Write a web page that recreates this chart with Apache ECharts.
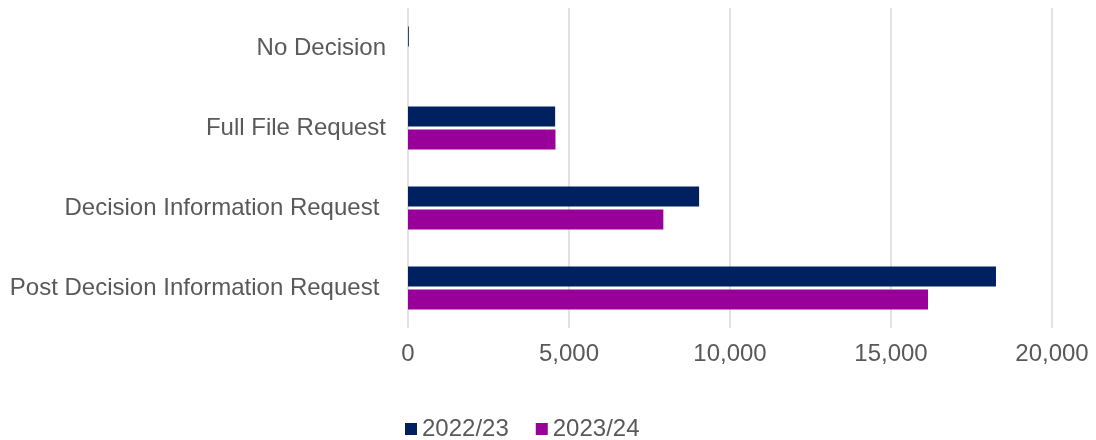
<!DOCTYPE html>
<html>
<head>
<meta charset="utf-8">
<script src="https://cdn.jsdelivr.net/npm/echarts@6/dist/echarts.min.js"></script>
<style>
  html, body { margin: 0; padding: 0; background: #ffffff; }
  #chart { width: 1096px; height: 440px; }
</style>
</head>
<body>
<div id="chart"></div>
<script>
// Request types, listed bottom-to-top as the category axis draws them
const categories = [
  'Post Decision Information Request ',
  'Decision Information Request ',
  'Full File Request',
  'No Decision'
];
const seriesNames = ['2022/23', '2023/24'];
const values2022 = [18260, 9040, 4570, 25];
const values2023 = [16150, 7930, 4580, 0];
const xTicks = { min: 0, max: 20000, interval: 5000 };

const textColor = '#595959';
const font = 'Liberation Sans, Arial, sans-serif';

const chart = echarts.init(document.getElementById('chart'), null, { renderer: 'canvas' });
chart.setOption({
  animation: false,
  backgroundColor: '#ffffff',
  grid: { left: 408, right: 44, top: 8, bottom: 112, containLabel: false },
  legend: {
    data: seriesNames,
    left: 400,
    top: 412,
    itemWidth: 12,
    itemHeight: 12,
    itemGap: 27,
    icon: 'rect',
    textStyle: { color: textColor, fontSize: 24, fontFamily: font }
  },
  xAxis: {
    type: 'value',
    min: xTicks.min,
    max: xTicks.max,
    interval: xTicks.interval,
    axisLine: { show: false },
    axisTick: { show: false },
    axisLabel: {
      color: textColor, fontSize: 24, fontFamily: font, margin: 14,
      formatter: v => v.toLocaleString('en-US')
    },
    splitLine: { show: true, lineStyle: { color: '#d9d9d9', width: 1.5 } }
  },
  yAxis: {
    type: 'category',
    data: categories,
    axisLine: { show: false },
    axisTick: { show: false },
    axisLabel: { color: textColor, fontSize: 24, fontFamily: font, margin: 22 }
  },
  series: [
    {
      name: seriesNames[0], type: 'bar', data: values2022,
      barWidth: 20, barGap: '15%',
      itemStyle: { color: '#002060' }
    },
    {
      name: seriesNames[1], type: 'bar', data: values2023,
      barWidth: 20,
      itemStyle: { color: '#990099' }
    }
  ]
});
</script>
</body>
</html>
